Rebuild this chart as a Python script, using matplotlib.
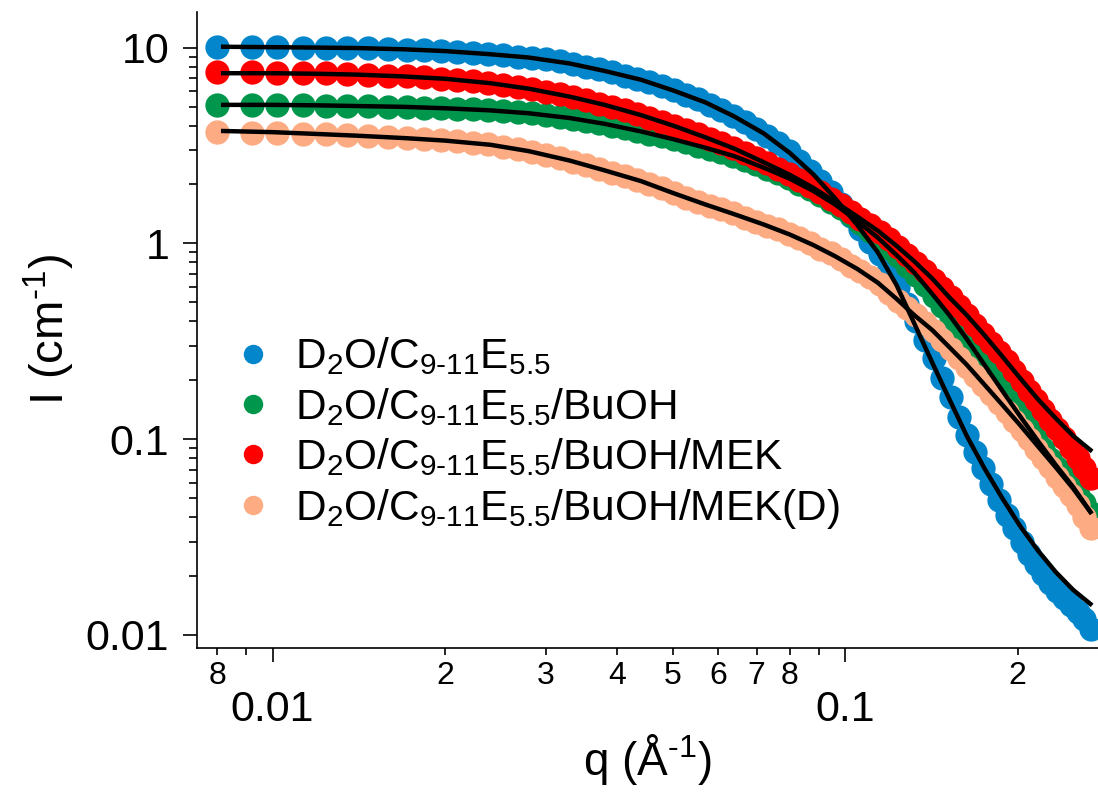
import numpy as np
import matplotlib
matplotlib.use("Agg")
import matplotlib.pyplot as plt
from matplotlib.ticker import FixedLocator, FixedFormatter, NullFormatter

plt.rcParams['font.family'] = ['Liberation Sans', 'DejaVu Sans']
plt.rcParams['mathtext.fontset'] = 'custom'
plt.rcParams['mathtext.rm'] = 'Liberation Sans'
plt.rcParams['mathtext.it'] = 'Liberation Sans:italic'
plt.rcParams['mathtext.bf'] = 'Liberation Sans:bold'

# scattering vector (1/A) of the measured points
q = [0.0080, 0.0092, 0.0102, 0.0113, 0.0124, 0.0135, 0.0147, 0.0159, 0.0172, 0.0184,
     0.0197, 0.0210, 0.0224, 0.0238, 0.0253, 0.0268, 0.0284, 0.0300, 0.0317, 0.0335,
     0.0353, 0.0372, 0.0392, 0.0412, 0.0433, 0.0455, 0.0478, 0.0502, 0.0527, 0.0553,
     0.0580, 0.0608, 0.0637, 0.0667, 0.0698, 0.0730, 0.0763, 0.0797, 0.0832, 0.0868,
     0.0905, 0.0943, 0.0982, 0.1022, 0.1063, 0.1105, 0.1148, 0.1192, 0.1237, 0.1283,
     0.1330, 0.1378, 0.1427, 0.1477, 0.1528, 0.1580, 0.1633, 0.1687, 0.1742, 0.1798,
     0.1855, 0.1913, 0.1972, 0.2032, 0.2093, 0.2155, 0.2218, 0.2282, 0.2347, 0.2413,
     0.2480, 0.2548, 0.2617, 0.2687]

I_e55 = [10.1, 10.1, 10.05, 10.0, 10.0, 9.95, 9.9, 9.85, 9.75, 9.7,
         9.6, 9.5, 9.4, 9.3, 9.15, 9.0, 8.85, 8.7, 8.5, 8.25,
         8.0, 7.75, 7.5, 7.2, 6.95, 6.65, 6.35, 6.05, 5.75, 5.45,
         5.1, 4.8, 4.45, 4.15, 3.85, 3.55, 3.25, 2.95, 2.65, 2.35,
         2.08, 1.82, 1.58, 1.38, 1.18, 1.02, 0.88, 0.74, 0.6, 0.49,
         0.4, 0.32, 0.26, 0.205, 0.165, 0.13, 0.105, 0.086, 0.071, 0.059,
         0.049, 0.041, 0.035, 0.030, 0.026, 0.023, 0.0205, 0.0185, 0.0168, 0.0154,
         0.0142, 0.0131, 0.0120, 0.0107]

I_buoh = [5.1, 5.1, 5.1, 5.08, 5.06, 5.04, 5.02, 5.0, 4.97, 4.94,
          4.91, 4.87, 4.83, 4.79, 4.74, 4.68, 4.61, 4.53, 4.44, 4.34,
          4.23, 4.12, 4.0, 3.88, 3.76, 3.64, 3.52, 3.4, 3.28, 3.16,
          3.04, 2.92, 2.8, 2.67, 2.54, 2.41, 2.28, 2.15, 2.02, 1.89,
          1.76, 1.63, 1.51, 1.39, 1.27, 1.16, 1.05, 0.95, 0.86, 0.77,
          0.69, 0.61, 0.54, 0.48, 0.42, 0.37, 0.32, 0.28, 0.245, 0.215,
          0.19, 0.165, 0.145, 0.128, 0.113, 0.1, 0.089, 0.079, 0.071, 0.064,
          0.058, 0.052, 0.047, 0.042]

I_mek = [7.5, 7.48, 7.45, 7.42, 7.38, 7.33, 7.27, 7.2, 7.12, 7.04,
         6.95, 6.85, 6.72, 6.6, 6.45, 6.3, 6.13, 5.96, 5.78, 5.58,
         5.38, 5.18, 4.98, 4.78, 4.58, 4.38, 4.18, 3.98, 3.78, 3.6,
         3.42, 3.24, 3.06, 2.89, 2.72, 2.56, 2.4, 2.25, 2.1, 1.96,
         1.82, 1.69, 1.57, 1.45, 1.34, 1.24, 1.14, 1.05, 0.96, 0.87,
         0.79, 0.72, 0.65, 0.59, 0.53, 0.48, 0.43, 0.385, 0.345, 0.31,
         0.28, 0.25, 0.222, 0.198, 0.177, 0.158, 0.141, 0.126, 0.113, 0.101,
         0.09, 0.08, 0.071, 0.063]

I_mekd = [3.7, 3.68, 3.66, 3.64, 3.61, 3.58, 3.54, 3.5, 3.46, 3.42,
          3.37, 3.32, 3.27, 3.2, 3.12, 3.02, 2.93, 2.84, 2.73, 2.6,
          2.5, 2.4, 2.3, 2.2, 2.1, 2.01, 1.92, 1.8, 1.71, 1.63,
          1.56, 1.49, 1.43, 1.35, 1.29, 1.23, 1.18, 1.12, 1.06, 1.0,
          0.94, 0.89, 0.83, 0.77, 0.72, 0.67, 0.62, 0.56, 0.51, 0.47,
          0.43, 0.39, 0.355, 0.32, 0.29, 0.26, 0.235, 0.21, 0.19, 0.17,
          0.153, 0.138, 0.124, 0.111, 0.1, 0.089, 0.08, 0.072, 0.064, 0.058,
          0.052, 0.046, 0.04, 0.035]

# model fits
q_fit = [0.0082, 0.010, 0.012, 0.014, 0.017, 0.020, 0.024, 0.028, 0.033, 0.038,
         0.044, 0.050, 0.057, 0.064, 0.072, 0.080, 0.088, 0.096, 0.105, 0.114,
         0.123, 0.132, 0.142, 0.152, 0.163, 0.175, 0.188, 0.202, 0.217, 0.233,
         0.250, 0.268]

fit_e55 = [10.1, 10.05, 10.0, 9.95, 9.8, 9.6, 9.25, 8.9, 8.3, 7.6,
           6.85, 6.05, 5.25, 4.45, 3.65, 2.9, 2.25, 1.7, 1.24, 0.9,
           0.61, 0.39, 0.245, 0.16, 0.104, 0.071, 0.05, 0.036, 0.027, 0.021,
           0.017, 0.0144]
fit_buoh = [5.1, 5.1, 5.07, 5.03, 4.98, 4.9, 4.78, 4.62, 4.37, 4.08,
            3.73, 3.41, 3.08, 2.79, 2.44, 2.14, 1.85, 1.58, 1.3, 1.07,
            0.87, 0.71, 0.55, 0.43, 0.325, 0.24, 0.177, 0.131, 0.098, 0.074,
            0.057, 0.0425]
fit_mek = [7.4, 7.4, 7.35, 7.28, 7.12, 6.93, 6.58, 6.17, 5.62, 5.1,
           4.52, 4.0, 3.48, 3.05, 2.6, 2.24, 1.92, 1.63, 1.37, 1.16,
           0.97, 0.81, 0.66, 0.53, 0.43, 0.34, 0.265, 0.205, 0.16, 0.128,
           0.104, 0.088]
fit_mekd = [3.75, 3.7, 3.62, 3.55, 3.45, 3.35, 3.19, 2.96, 2.65, 2.36,
            2.08, 1.81, 1.58, 1.41, 1.25, 1.11, 0.98, 0.86, 0.74, 0.63,
            0.52, 0.43, 0.36, 0.295, 0.24, 0.19, 0.15, 0.118, 0.092, 0.072,
            0.056, 0.0425]

labels = [r'D$_2$O/C$_{\text{9-11}}$E$_{5.5}$',
          r'D$_2$O/C$_{\text{9-11}}$E$_{5.5}$/BuOH',
          r'D$_2$O/C$_{\text{9-11}}$E$_{5.5}$/BuOH/MEK',
          r'D$_2$O/C$_{\text{9-11}}$E$_{5.5}$/BuOH/MEK(D)']
colors = ['#0386CB', '#00964C', '#FF0000', '#FCAB82']

fig = plt.figure(figsize=(10.98, 7.99), dpi=100)
ax = fig.add_axes([197/1098, 151/799, 901/1098, 636/799])

for I, c, lab in zip([I_e55, I_buoh, I_mek, I_mekd], colors, labels):
    ax.plot(q, I, 'o', ms=17.5, color=c, mec='none', label=lab)

for f in [fit_e55, fit_buoh, fit_mek, fit_mekd]:
    ax.plot(q_fit, f, '-', color='black', lw=3.2)

ax.set_xscale('log')
ax.set_yscale('log')
ax.set_xlim(0.00738, 0.2763)
ax.set_ylim(0.00858, 15.2)

for s in ['top', 'right']:
    ax.spines[s].set_visible(False)
for s in ['left', 'bottom']:
    ax.spines[s].set_linewidth(1.2)

ax.yaxis.set_major_locator(FixedLocator([0.01, 0.1, 1, 10]))
ax.yaxis.set_major_formatter(FixedFormatter(['0.01', '0.1', '1', '10']))
ymin = [m * d for d in [0.01, 0.1, 1] for m in range(2, 10)]
ax.yaxis.set_minor_locator(FixedLocator(ymin))
ax.yaxis.set_minor_formatter(NullFormatter())

ax.xaxis.set_major_locator(FixedLocator([0.01, 0.1]))
ax.xaxis.set_major_formatter(FixedFormatter(['0.01', '0.1']))
xmin = [0.008, 0.009] + [m * 0.01 for m in range(2, 10)] + [0.2]
xmin_lab = ['8', '', '2', '3', '4', '5', '6', '7', '8', '', '2']
ax.xaxis.set_minor_locator(FixedLocator(xmin))
ax.xaxis.set_minor_formatter(FixedFormatter(xmin_lab))

ax.tick_params(axis='y', which='major', length=10, width=1.2, labelsize=31, pad=10)
ax.tick_params(axis='y', which='minor', length=5.5, width=1.2)
ax.tick_params(axis='x', which='major', length=10, width=1.2, labelsize=31, pad=20)
ax.tick_params(axis='x', which='minor', length=5, width=1.2, labelsize=23, pad=4)

ax.set_xlabel(r'q (Å$^{\text{-1}}$)', fontsize=33, labelpad=2)
ax.set_ylabel(r'I (cm$^{\text{-1}}$)', fontsize=34, labelpad=6)

leg = ax.legend(loc='upper left', bbox_to_anchor=(0.015, 0.518), frameon=False,
                fontsize=30.5, markerscale=0.8, handletextpad=0.4,
                labelspacing=0.2, handlelength=1.2, borderaxespad=0)

fig.savefig('out.png', dpi=100)
